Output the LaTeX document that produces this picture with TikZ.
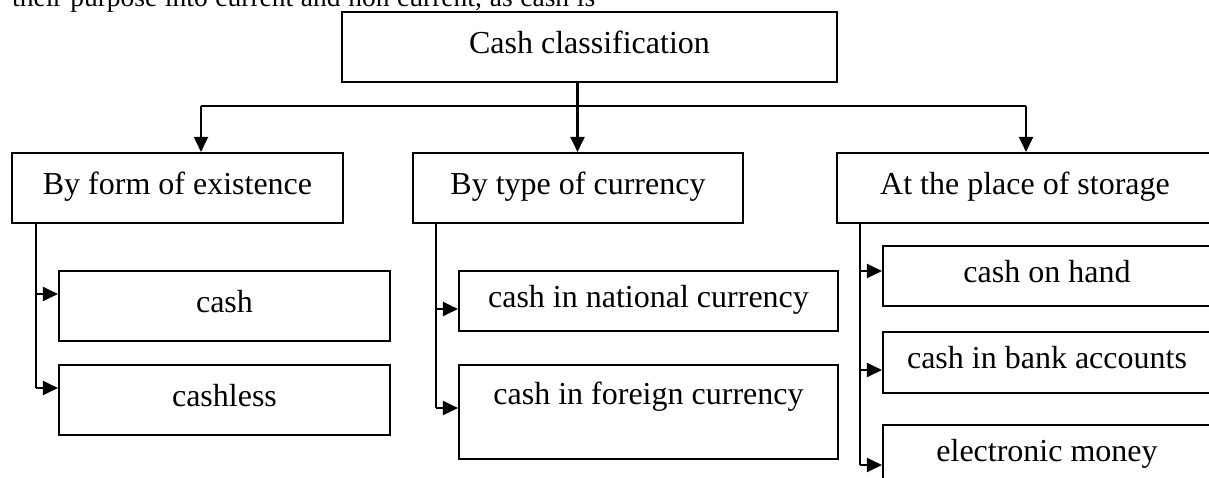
\documentclass[tikz,border=0pt]{standalone}
\usepackage{fontspec}
\setmainfont{Liberation Serif}
\usetikzlibrary{arrows.meta}
\tikzset{
  box/.style={draw, line width=2.1pt, rectangle, inner sep=0pt, align=center,
    text height=22.4pt, text depth=9.6pt, font=\fontsize{32}{38}\selectfont},
  conn/.style={line width=2.1pt},
  arr/.style={line width=2.1pt, -{Triangle[length=15pt,width=14pt]}},
}
\begin{document}
\begin{tikzpicture}[x=1pt,y=-1pt]
\useasboundingbox (0,0) rectangle (1209,477);
\fill[white] (0,0) rectangle (1209,477);
\clip (0,0) rectangle (1209,477);

% partial running text at the top
\node[anchor=base west, inner sep=0pt, font=\fontsize{27.5}{33}\selectfont] (runtext) at (12,6)
  {\makebox[583pt][s]{their purpose into current and non current, as cash is}};

% boxes
\node[box, minimum width=495pt, minimum height=70pt] (top) at (589.5,47) {Cash classification};
\node[box, minimum width=331pt, minimum height=70pt] (A) at (177.5,188) {By form of existence};
\node[box, minimum width=330pt, minimum height=70pt] (B) at (578,188) {By type of currency};
\node[box, minimum width=376pt, minimum height=70pt] (C) at (1025,188) {At the place of storage};

\node[box, minimum width=331pt, minimum height=70pt] (cash) at (224.5,306) {cash};
\node[box, minimum width=331pt, minimum height=70pt] (cashless) at (224.5,400) {cashless};

\node[box, minimum width=379pt, minimum height=60pt] (national) at (648.5,301) {cash in national currency};
\node[box, minimum width=379pt, minimum height=94pt, text depth=38pt] (foreign) at (648.5,412) {cash in foreign currency};

\node[box, minimum width=328pt, minimum height=60pt] (hand) at (1047,276) {cash on hand};
\node[box, minimum width=328pt, minimum height=61pt] (bank) at (1047,362.5) {cash in bank accounts};
\node[box, minimum width=328pt, minimum height=60pt] (emoney) at (1047,455) {electronic money};

% top-level bus
\coordinate (busL) at (201,106);
\coordinate (busM) at (577.5,106);
\coordinate (busR) at (1026,106);
\draw[conn] (top.south -| busM) -- (busM);
\draw[conn] (busL) -- (busR);
\draw[arr] (busL) -- (busL |- A.north);
\draw[arr] (busM) -- (busM |- B.north);
\draw[arr] (busR) -- (busR |- C.north);

% branch A
\coordinate (a1) at (36,294);
\coordinate (a2) at (36,388);
\draw[conn] (A.south -| a1) -- (a2);
\draw[arr] (a1) -- (a1 -| cash.west);
\draw[arr] (a2) -- (a2 -| cashless.west);

% branch B
\coordinate (b1) at (436,309);
\coordinate (b2) at (436,408);
\draw[conn] (B.south -| b1) -- (b2);
\draw[arr] (b1) -- (b1 -| national.west);
\draw[arr] (b2) -- (b2 -| foreign.west);

% branch C
\coordinate (c1) at (860,271);
\coordinate (c2) at (860,370);
\coordinate (c3) at (860,465);
\draw[conn] (C.south -| c1) -- (c3);
\draw[arr] (c1) -- (c1 -| hand.west);
\draw[arr] (c2) -- (c2 -| bank.west);
\draw[arr] (c3) -- (c3 -| emoney.west);
\end{tikzpicture}
\end{document}
